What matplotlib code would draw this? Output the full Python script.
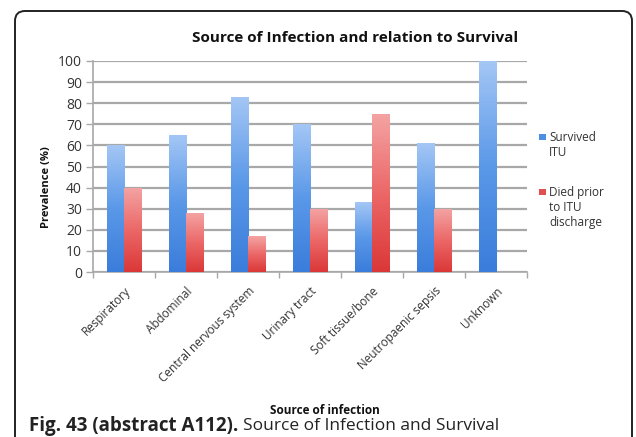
import numpy as np
import matplotlib
matplotlib.use("Agg")
import matplotlib.pyplot as plt
from matplotlib import patches, transforms
from matplotlib.colors import LinearSegmentedColormap

categories = [
    "Respiratory",
    "Abdominal",
    "Central nervous system",
    "Urinary tract",
    "Soft tissue/bone",
    "Neutropaenic sepsis",
    "Unknown",
]
survived = [60, 65, 83, 70, 33, 61, 100]
died = [40, 28, 17, 30, 75, 30, 0]
y_ticks = [0, 10, 20, 30, 40, 50, 60, 70, 80, 90, 100]

W, H = 636, 437
FONT = ["Open Sans", "DejaVu Sans"]

blue_cmap = LinearSegmentedColormap.from_list("b", ["#a3c6f5", "#5a98e8", "#3b7ddb"])
red_cmap = LinearSegmentedColormap.from_list("r", ["#f4a3a3", "#ec6868", "#db3838"])


def px_axes(fig, left, top, right, bottom):
    return fig.add_axes([left / W, 1 - bottom / H, (right - left) / W, (bottom - top) / H])


def gradient_bar(ax, x, width, height, cmap):
    if height <= 0:
        return
    rect = patches.Rectangle((x - width / 2, 0), width, height, facecolor="none",
                             edgecolor="none", zorder=3)
    ax.add_patch(rect)
    grad = np.linspace(0, 1, 64).reshape(-1, 1)
    im = ax.imshow(grad, cmap=cmap, aspect="auto", origin="upper",
                   extent=(x - width / 2, x + width / 2, 0, height), zorder=3)
    im.set_clip_path(rect)


fig = plt.figure(figsize=(W / 100, H / 100), dpi=100)

# rounded frame
frame = fig.add_axes([0, 0, 1, 1])
frame.set_xlim(0, W)
frame.set_ylim(H, 0)
frame.axis("off")
frame.add_patch(patches.FancyBboxPatch((15, 11), 617, 440,
                                       boxstyle="round,pad=0,rounding_size=10",
                                       facecolor="white", edgecolor="#222222", lw=1.4))

ax = px_axes(fig, 93, 61, 527, 272)
ax.set_facecolor("none")
x = np.arange(len(categories))
bw = 0.28
for i in range(len(categories)):
    gradient_bar(ax, x[i] - 0.14, bw, survived[i], blue_cmap)
    gradient_bar(ax, x[i] + 0.14, bw, died[i], red_cmap)

ax.set_xlim(-0.5, len(categories) - 0.5)
ax.set_ylim(0, 100)
ax.set_yticks(y_ticks)
ax.set_yticklabels([str(v) for v in y_ticks], fontsize=10, family=FONT, color="#333333")
ax.yaxis.grid(True, color="#a8a8a8", lw=1.6, zorder=1)
ax.set_axisbelow(True)
ax.tick_params(axis="y", length=5, width=1, color="#a8a8a8", pad=3)
ax.set_xticks(np.arange(len(categories) + 1) - 0.5, minor=True)
ax.set_xticks(x)
ax.set_xticklabels(categories, rotation=45, ha="right", rotation_mode="anchor",
                   fontsize=8.5, family=FONT, color="#333333")
ax.tick_params(axis="x", which="major", length=0, pad=9)
ax.tick_params(axis="x", which="minor", length=4, width=1, color="#a8a8a8")
for s in ["top", "right"]:
    ax.spines[s].set_visible(False)
for s in ["left", "bottom"]:
    ax.spines[s].set_color("#a8a8a8")
    ax.spines[s].set_linewidth(1.2)

frame.text(47, 187, "Prevalence (%)", fontsize=8, fontweight="bold", family=FONT,
           rotation=90, ha="center", va="center", color="#111111")
frame.text(355, 38, "Source of Infection and relation to Survival", fontsize=11,
           fontweight="bold", family=FONT, ha="center", va="center", color="#111111")
frame.text(325, 411, "Source of infection", fontsize=8.5, fontweight="bold",
           family=FONT, ha="center", va="center", color="#111111")

# legend
frame.add_patch(patches.Rectangle((539, 134), 7, 6, facecolor="#4f8fe3", edgecolor="none"))
frame.text(549, 131, "Survived\nITU", fontsize=8.5, family=FONT, ha="left", va="top",
           linespacing=1.2, color="#333333")
frame.add_patch(patches.Rectangle((539, 189), 7, 6, facecolor="#e05050", edgecolor="none"))
frame.text(549, 186, "Died prior\nto ITU\ndischarge", fontsize=8.5, family=FONT, ha="left",
           va="top", linespacing=1.2, color="#333333")

# caption
t = frame.text(29, 426, "Fig. 43 (abstract A112).", fontsize=13.5, fontweight="bold",
               family=FONT, ha="left", va="center", color="#222222")
fig.canvas.draw()
bb = t.get_window_extent()
frame.text(bb.x1 + 5, 426, "Source of Infection and Survival", fontsize=12.5,
           family=FONT, ha="left", va="center", color="#222222",
           transform=transforms.blended_transform_factory(
               transforms.IdentityTransform(), frame.transData))

fig.savefig("out.png", dpi=100)
